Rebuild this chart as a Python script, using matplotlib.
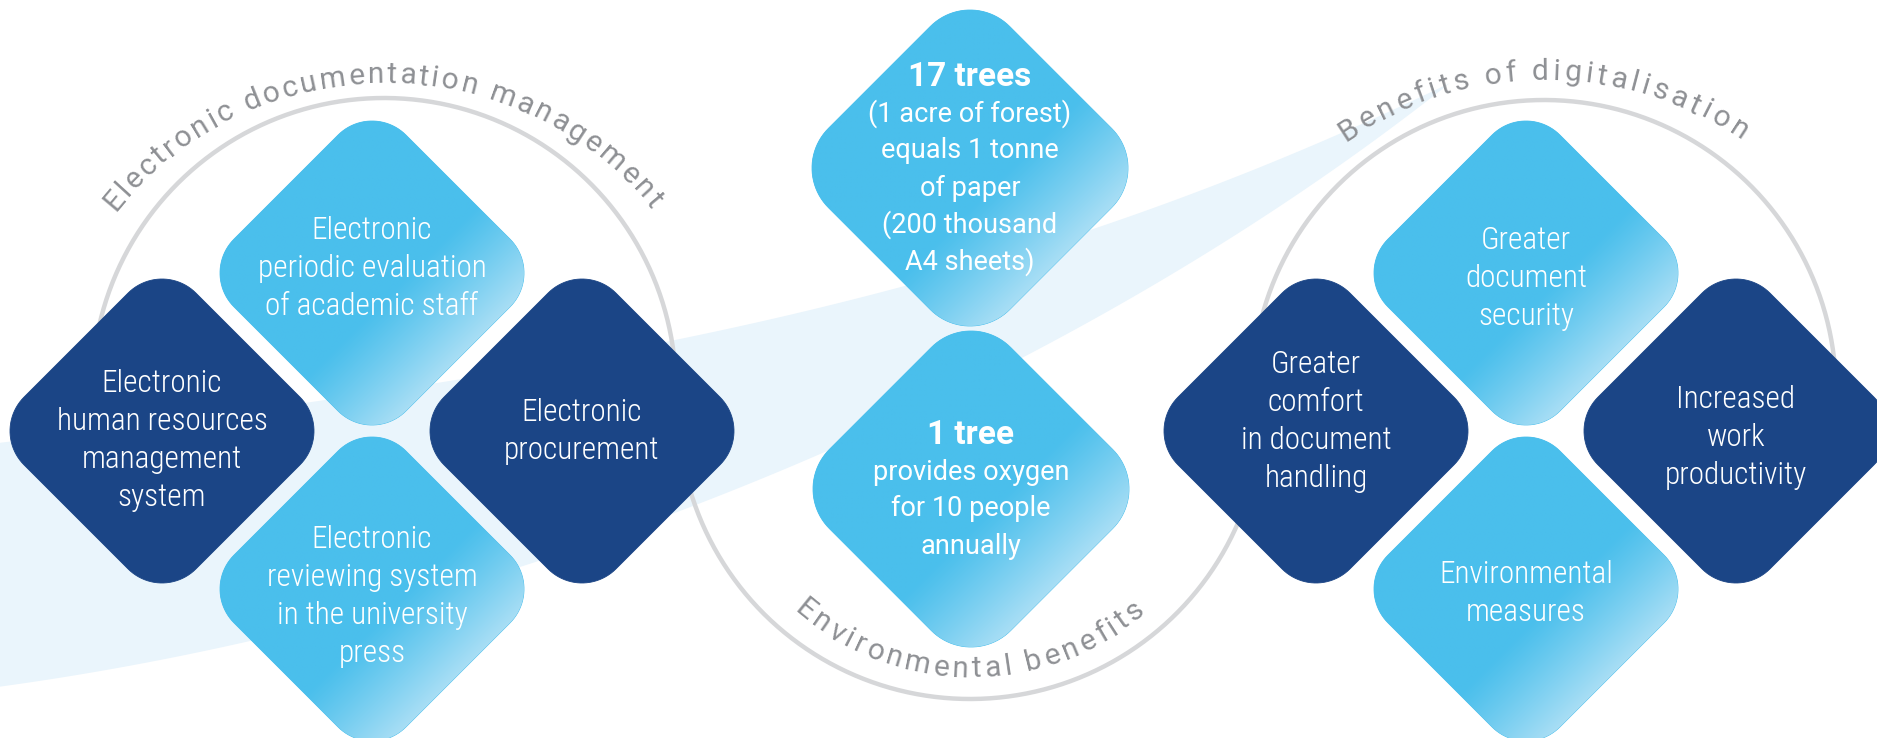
import numpy as np
import matplotlib
matplotlib.use("Agg")
import matplotlib.pyplot as plt
from matplotlib.path import Path
from matplotlib.patches import PathPatch
from matplotlib.font_manager import FontProperties, findfont, get_font
from matplotlib.colors import to_rgb

# ---------------- content ----------------
left_title = "Electronic documentation management"
middle_title = "Environmental benefits"
right_title = "Benefits of digitalisation"

# order inside each group: left, top, right, bottom
left_labels = [
    ["Electronic", "human resources", "management", "system"],
    ["Electronic", "periodic evaluation", "of academic staff"],
    ["Electronic", "procurement"],
    ["Electronic", "reviewing system", "in the university", "press"],
]
left_kinds = ["dark", "light", "dark", "light"]

right_labels = [
    ["Greater", "comfort", "in document", "handling"],
    ["Greater", "document", "security"],
    ["Increased", "work", "productivity"],
    ["Environmental", "measures"],
]
right_kinds = ["dark", "light", "dark", "light"]

middle_heads = ["17 trees", "1 tree"]
middle_bodies = [
    ["(1 acre of forest)", "equals 1 tonne", "of paper", "(200 thousand", "A4 sheets)"],
    ["provides oxygen", "for 10 people", "annually"],
]

# ---------------- style / layout ----------------
W, H = 1877, 738
DARK = "#1B4586"
LIGHT = "#4ABFEC"
PALE = "#A8DEF5"
BAND = "#EAF5FC"
GRAY_LINE = "#D6D7D9"
GRAY_TEXT = "#8E9094"

ARC_FONT = FontProperties(family=["Roboto", "DejaVu Sans"], weight="normal", size=21.5)
BOX_FAMILY = ["Roboto Condensed", "Liberation Sans Narrow", "Roboto", "DejaVu Sans"]
MID_FAMILY = ["Roboto", "DejaVu Sans"]

# per-label vertical text nudges (px), same order as the label lists
left_text_dy = [9, -5, 0, 7]
right_text_dy = [-10, 5, 6, 4]

fig = plt.figure(figsize=(W / 100, H / 100), dpi=100)
ax = fig.add_axes([0, 0, 1, 1])
ax.set_xlim(0, W)
ax.set_ylim(H, 0)
ax.axis("off")


def bezier(p0, p1, p2, p3, n=200):
    t = np.linspace(0, 1, n)[:, None]
    p0, p1, p2, p3 = map(np.array, (p0, p1, p2, p3))
    return ((1 - t) ** 3) * p0 + 3 * ((1 - t) ** 2) * t * p1 + 3 * (1 - t) * t ** 2 * p2 + t ** 3 * p3


# light swoosh band
top_edge = bezier((-10, 444), (600, 370), (1000, 300), (1450, 83))
bot_edge = bezier((-10, 688), (500, 620), (1050, 400), (1450, 83))
band = np.vstack([top_edge, bot_edge[::-1]])
ax.add_patch(PathPatch(Path(band, closed=False), fc=BAND, ec="none", zorder=1))


# gray connecting circles (S-curve)
def arc(cx, cy, r, a0, a1, n=300):
    a = np.deg2rad(np.linspace(a0, a1, n))
    return cx + r * np.cos(a), cy - r * np.sin(a)


R_CIRC = 292
for (cx, cy, a0, a1) in [(384, 390, 180, 0), (970, 407, 180, 360), (1544, 392, 180, 0)]:
    x, y = arc(cx, cy, R_CIRC, a0, a1)
    ax.plot(x, y, color=GRAY_LINE, lw=3.2, solid_capstyle="round", zorder=2)


def rounded_diamond(cx, cy, h, rc, n=24):
    dp = h - rc
    pts = []
    for ang in [0, 90, 180, 270]:
        a = np.deg2rad(ang)
        ccx, ccy = cx + dp * np.cos(a), cy + dp * np.sin(a)
        th = np.deg2rad(np.linspace(ang - 45, ang + 45, n))
        pts.append(np.column_stack([ccx + rc * np.cos(th), ccy + rc * np.sin(th)]))
    pts = np.vstack(pts)
    return Path(np.vstack([pts, pts[:1]]), closed=True)


def draw_diamond(cx, cy, h, rc, kind):
    path = rounded_diamond(cx, cy, h, rc)
    if kind == "dark":
        ax.add_patch(PathPatch(path, fc=DARK, ec=DARK, lw=0.6, zorder=3))
        return
    patch = PathPatch(path, fc=LIGHT, ec=LIGHT, lw=0.6, zorder=3)
    ax.add_patch(patch)
    n = 320
    xs = np.linspace(cx - h, cx + h, n)
    ys = np.linspace(cy - h, cy + h, n)
    X, Y = np.meshgrid(xs, ys)
    D = h + rc * (np.sqrt(2) - 1)
    t = ((X - cx) + (Y - cy)) / D
    f = np.clip((t - 0.22) / 0.78, 0, 1) ** 1.15
    c0 = np.array(to_rgb(LIGHT))
    c1 = np.array(to_rgb(PALE))
    img = c0 + (c1 - c0) * f[..., None]
    im = ax.imshow(img, extent=(cx - h, cx + h, cy + h, cy - h), zorder=3.1,
                   interpolation="bilinear")
    im.set_clip_path(patch)


def put_lines(cx, cy, lines, size, family, weight="normal", spacing=38, base_off=9):
    n = len(lines)
    for i, ln in enumerate(lines):
        yc = cy + (i - (n - 1) / 2) * spacing
        ax.text(cx, yc + base_off, ln, ha="center", va="baseline", color="white",
                fontsize=size, family=family, weight=weight, zorder=5)


# side groups
OFFS = [(-210, 0), (0, -158), (210, 0), (0, 158)]
H_SIDE, RC_SIDE = 152, 48
for (gx, gy), labels, kinds, tdy in [((372, 431), left_labels, left_kinds, left_text_dy),
                                      ((1526, 431), right_labels, right_kinds, right_text_dy)]:
    for (ox, oy), lab, kind, dy in zip(OFFS, labels, kinds, tdy):
        cx, cy = gx + ox, gy + oy
        draw_diamond(cx, cy, H_SIDE, RC_SIDE, kind)
        put_lines(cx, cy + dy, lab, 22.5, BOX_FAMILY, weight="light")

# middle pair
H_MID, RC_MID = 158, 56
for (cx, cy), head, body in zip([(970, 168), (971, 489)], middle_heads, middle_bodies):
    draw_diamond(cx, cy, H_MID, RC_MID, "light")
    n = 1 + len(body)
    L = 37
    y0 = cy - (n - 1) / 2 * L
    ax.text(cx, y0 + 11, head, ha="center", va="baseline", color="white",
            fontsize=24, family=MID_FAMILY, weight="bold", zorder=5)
    for i, ln in enumerate(body):
        ax.text(cx, y0 + (i + 1) * L + 9, ln, ha="center", va="baseline", color="white",
                fontsize=19.5, family=MID_FAMILY, zorder=5)


# curved titles
def advances(text, fp):
    font = get_font(findfont(fp))
    font.set_size(fp.get_size_in_points(), 100)
    return [font.load_char(ord(c)).linearHoriAdvance / 65536.0 for c in text]


def arc_text(text, cx, cy, R, fp, span_deg, top=True):
    adv = advances(text, fp)
    total = R * np.deg2rad(span_deg)
    spacing = (total - sum(adv) + (adv[0] + adv[-1]) / 2) / (len(text) - 1)
    start = 90 + span_deg / 2 + np.degrees(adv[0] / 2 / R)
    s = 0.0
    for ch, a in zip(text, adv):
        ang = start - np.degrees((s + a / 2) / R)
        s += a + spacing
        if ch == " ":
            continue
        r = np.deg2rad(ang)
        if top:
            x, y, rot = cx + R * np.cos(r), cy - R * np.sin(r), ang - 90
        else:
            x, y, rot = cx + R * np.cos(r), cy + R * np.sin(r), 90 - ang
        ax.text(x, y, ch, ha="center", va="baseline", rotation=rot,
                rotation_mode="anchor", color=GRAY_TEXT, fontproperties=fp, zorder=6)


arc_text(left_title, 384, 427, 344, ARC_FONT, 100, top=True)
arc_text(right_title, 1544, 430, 350, ARC_FONT, 66, top=True)
arc_text(middle_title, 970, 407, 270, ARC_FONT, 78, top=False)

ax.set_xlim(0, W)
ax.set_ylim(H, 0)
ax.set_aspect("auto")
fig.savefig("out.png", dpi=100, facecolor="white")
